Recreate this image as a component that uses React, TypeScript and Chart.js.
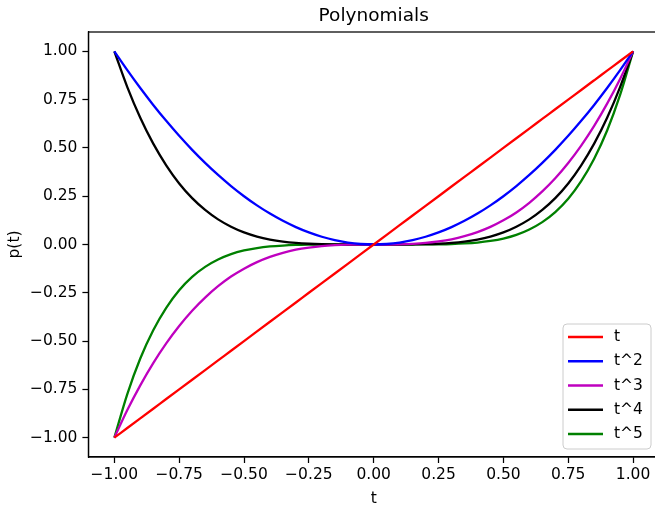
import React, { useEffect, useRef } from "react";
import { Chart, registerables } from "chart.js";

Chart.register(...registerables);

const tValues = [-1.0, -0.95, -0.9, -0.85, -0.8, -0.75, -0.7, -0.65, -0.6, -0.55, -0.5, -0.45, -0.4, -0.35, -0.3, -0.25, -0.2, -0.15, -0.1, -0.05, 0.0, 0.05, 0.1, 0.15, 0.2, 0.25, 0.3, 0.35, 0.4, 0.45, 0.5, 0.55, 0.6, 0.65, 0.7, 0.75, 0.8, 0.85, 0.9, 0.95, 1.0];
const pT1 = [-1.0, -0.95, -0.9, -0.85, -0.8, -0.75, -0.7, -0.65, -0.6, -0.55, -0.5, -0.45, -0.4, -0.35, -0.3, -0.25, -0.2, -0.15, -0.1, -0.05, 0.0, 0.05, 0.1, 0.15, 0.2, 0.25, 0.3, 0.35, 0.4, 0.45, 0.5, 0.55, 0.6, 0.65, 0.7, 0.75, 0.8, 0.85, 0.9, 0.95, 1.0];
const pT2 = [1.0, 0.9025, 0.81, 0.7225, 0.64, 0.5625, 0.49, 0.4225, 0.36, 0.3025, 0.25, 0.2025, 0.16, 0.1225, 0.09, 0.0625, 0.04, 0.0225, 0.01, 0.0025, 0.0, 0.0025, 0.01, 0.0225, 0.04, 0.0625, 0.09, 0.1225, 0.16, 0.2025, 0.25, 0.3025, 0.36, 0.4225, 0.49, 0.5625, 0.64, 0.7225, 0.81, 0.9025, 1.0];
const pT3 = [-1.0, -0.857, -0.729, -0.614, -0.512, -0.422, -0.343, -0.275, -0.216, -0.166, -0.125, -0.091, -0.064, -0.043, -0.027, -0.016, -0.008, -0.0034, -0.001, -0.0001, 0.0, 0.0001, 0.001, 0.0034, 0.008, 0.016, 0.027, 0.043, 0.064, 0.091, 0.125, 0.166, 0.216, 0.275, 0.343, 0.422, 0.512, 0.614, 0.729, 0.857, 1.0];
const pT4 = [1.0, 0.815, 0.656, 0.522, 0.41, 0.316, 0.24, 0.179, 0.13, 0.092, 0.0625, 0.041, 0.0256, 0.015, 0.0081, 0.0039, 0.0016, 0.0005, 0.0001, 0.0, 0.0, 0.0, 0.0001, 0.0005, 0.0016, 0.0039, 0.0081, 0.015, 0.0256, 0.041, 0.0625, 0.092, 0.13, 0.179, 0.24, 0.316, 0.41, 0.522, 0.656, 0.815, 1.0];
const pT5 = [-1.0, -0.774, -0.59, -0.444, -0.328, -0.237, -0.168, -0.116, -0.078, -0.05, -0.031, -0.0185, -0.0102, -0.0053, -0.0024, -0.001, -0.0003, -0.0001, 0.0, 0.0, 0.0, 0.0, 0.0, 0.0001, 0.0003, 0.001, 0.0024, 0.0053, 0.0102, 0.0185, 0.031, 0.05, 0.078, 0.116, 0.168, 0.237, 0.328, 0.444, 0.59, 0.774, 1.0];

const seriesLabels = ["t", "t^2", "t^3", "t^4", "t^5"];
const seriesColors = ["#ff0000", "#0000ff", "#bf00bf", "#000000", "#008000"];
const xTicks = [-1.0, -0.75, -0.5, -0.25, 0.0, 0.25, 0.5, 0.75, 1.0];
const yTicks = [-1.0, -0.75, -0.5, -0.25, 0.0, 0.25, 0.5, 0.75, 1.0];

const FONT = "'DejaVu Sans', sans-serif";
const TICK_SIZE = 15.5;

function fmt(v: number) {
  return v.toFixed(2).replace("-", "\u2212");
}

const framePlugin = {
  id: "frame",
  afterDraw(chart: any) {
    const { ctx, chartArea } = chart;
    ctx.save();
    // spines
    ctx.strokeStyle = "#000000";
    ctx.lineWidth = 1.25;
    ctx.strokeRect(chartArea.left, chartArea.top, chartArea.right - chartArea.left, chartArea.bottom - chartArea.top);
    // title
    ctx.fillStyle = "#000000";
    ctx.font = `18.5px ${FONT}`;
    ctx.textAlign = "center";
    ctx.textBaseline = "alphabetic";
    ctx.fillText("Polynomials", (chartArea.left + chartArea.right) / 2, 20.7);
    // legend
    const w = 88;
    const h = 125;
    const bx = chartArea.right - 8 - w;
    const by = chartArea.bottom - 8 - h;
    const r = 4;
    ctx.beginPath();
    ctx.moveTo(bx + r, by);
    ctx.lineTo(bx + w - r, by);
    ctx.quadraticCurveTo(bx + w, by, bx + w, by + r);
    ctx.lineTo(bx + w, by + h - r);
    ctx.quadraticCurveTo(bx + w, by + h, bx + w - r, by + h);
    ctx.lineTo(bx + r, by + h);
    ctx.quadraticCurveTo(bx, by + h, bx, by + h - r);
    ctx.lineTo(bx, by + r);
    ctx.quadraticCurveTo(bx, by, bx + r, by);
    ctx.closePath();
    ctx.fillStyle = "rgba(255,255,255,0.8)";
    ctx.fill();
    ctx.strokeStyle = "#cccccc";
    ctx.lineWidth = 1;
    ctx.stroke();
    ctx.font = `${TICK_SIZE}px ${FONT}`;
    ctx.textAlign = "left";
    ctx.textBaseline = "middle";
    seriesLabels.forEach((lab, i) => {
      const cy = by + 13 + i * 24.25;
      ctx.strokeStyle = seriesColors[i];
      ctx.lineWidth = 2.3;
      ctx.beginPath();
      ctx.moveTo(bx + 5, cy);
      ctx.lineTo(bx + 40, cy);
      ctx.stroke();
      ctx.fillStyle = "#000000";
      ctx.fillText(lab, bx + 51, cy);
    });
    ctx.restore();
  },
};

export default function App() {
  const canvasRef = useRef<HTMLCanvasElement | null>(null);

  useEffect(() => {
    const canvas = canvasRef.current;
    if (!canvas) return;
    const seriesValues = [pT1, pT2, pT3, pT4, pT5];
    const chart = new Chart(canvas, {
      type: "line",
      data: {
        datasets: seriesValues.map((vals, i) => ({
          label: seriesLabels[i],
          data: tValues.map((t, j) => ({ x: t, y: vals[j] })),
          borderColor: seriesColors[i],
          backgroundColor: seriesColors[i],
          borderWidth: 2.3,
          pointRadius: 0,
          fill: false,
          cubicInterpolationMode: "monotone",
        })),
      },
      options: {
        responsive: false,
        animation: false,
        devicePixelRatio: 1,
        layout: { padding: { top: 32, left: 0, right: 0, bottom: 0 } },
        plugins: {
          legend: { display: false },
          title: { display: false },
          tooltip: { enabled: false },
        },
        scales: {
          x: {
            type: "linear",
            min: -1.1,
            max: 1.1,
            afterBuildTicks: (scale: any) => {
              scale.ticks = xTicks.map((v) => ({ value: v }));
            },
            afterFit: (scale: any) => {
              scale.height = 505 - 32 - 425;
            },
            grid: {
              display: true,
              drawOnChartArea: false,
              drawTicks: true,
              tickLength: 6,
              tickColor: "#000000",
              tickWidth: 1.25,
            },
            border: { display: true, color: "#000000", width: 1.25 },
            ticks: {
              autoSkip: false,
              maxRotation: 0,
              padding: 3,
              color: "#000000",
              font: { family: FONT, size: TICK_SIZE },
              callback: (v: any) => fmt(Number(v)),
            },
            title: {
              display: true,
              text: "t",
              color: "#000000",
              font: { family: FONT, size: TICK_SIZE },
              padding: { top: 0, bottom: -3 },
            },
          },
          y: {
            type: "linear",
            min: -1.1,
            max: 1.1,
            afterBuildTicks: (scale: any) => {
              scale.ticks = yTicks.map((v) => ({ value: v }));
            },
            afterFit: (scale: any) => {
              scale.width = 88.4;
            },
            grid: {
              display: true,
              drawOnChartArea: false,
              drawTicks: true,
              tickLength: 6,
              tickColor: "#000000",
              tickWidth: 1.25,
            },
            border: { display: true, color: "#000000", width: 1.25 },
            ticks: {
              autoSkip: false,
              padding: 5,
              color: "#000000",
              font: { family: FONT, size: TICK_SIZE },
              callback: (v: any) => fmt(Number(v)),
            },
            title: {
              display: true,
              text: "p(t)",
              color: "#000000",
              font: { family: FONT, size: TICK_SIZE },
              padding: { top: 5.7, bottom: 0 },
            },
          },
        },
      },
      plugins: [framePlugin],
    });
    return () => chart.destroy();
  }, []);

  return (
    <div style={{ position: "fixed", left: 0, top: 0, width: 655, height: 505, overflow: "hidden", background: "#ffffff" }}>
      <canvas ref={canvasRef} width={659} height={505} style={{ display: "block", width: 659, height: 505 }} />
    </div>
  );
}
